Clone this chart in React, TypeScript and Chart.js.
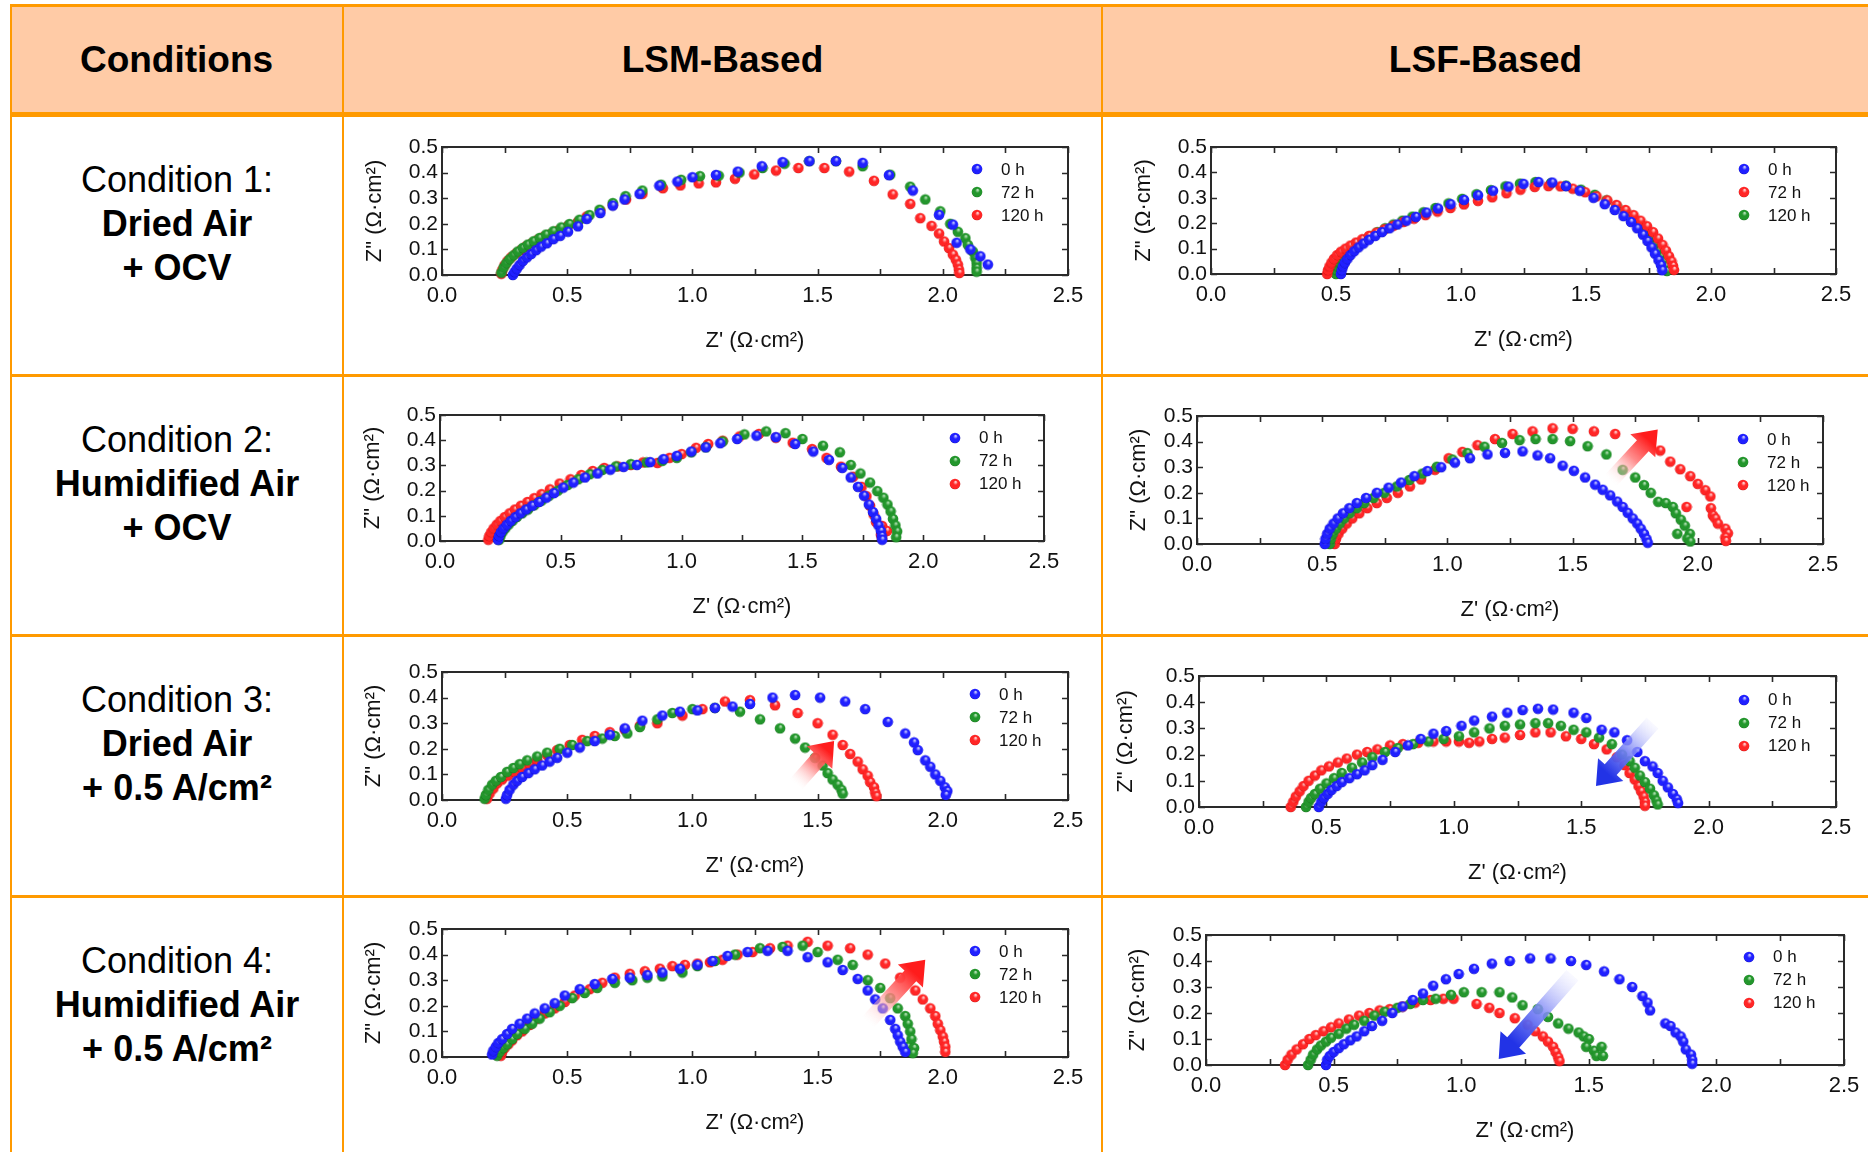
import React, { useEffect, useRef } from "react";
import { Chart, registerables } from "chart.js";

Chart.register(...registerables);

const FONT = '"Liberation Sans", Arial, Helvetica, sans-serif';

// ---------------- table text ----------------
const columnHeaders = ["Conditions", "LSM-Based", "LSF-Based"];
const conditionNames = ["Condition 1:", "Condition 2:", "Condition 3:", "Condition 4:"];
const conditionLines = [
  ["Dried Air", "+ OCV"],
  ["Humidified Air", "+ OCV"],
  ["Dried Air", "+ 0.5 A/cm²"],
  ["Humidified Air", "+ 0.5 A/cm²"],
];

// ---------------- axes ----------------
const xAxisTitle = "Z' (Ω·cm²)";
const yAxisTitle = 'Z" (Ω·cm²)';
const xRange = [0, 2.5];
const yRange = [0, 0.5];
const xLabelStep = 0.5;
const xTickStep = 0.25;
const yTickStep = 0.1;
const timeLabels = ["0 h", "72 h", "120 h"];

// ---------------- data: [Z', Z''] ----------------
// Condition 1, LSM
const lsmC1_0h = [[0.283,0.0],[0.29,0.012],[0.299,0.025],[0.31,0.039],[0.323,0.055],[0.339,0.069],[0.356,0.082],[0.376,0.097],[0.396,0.111],[0.419,0.124],[0.445,0.14],[0.472,0.153],[0.503,0.169],[0.543,0.19],[0.578,0.219],[0.632,0.242],[0.682,0.271],[0.729,0.295],[0.789,0.317],[0.868,0.349],[0.94,0.365],[1.0,0.382],[1.094,0.391],[1.181,0.404],[1.277,0.425],[1.36,0.441],[1.467,0.445],[1.573,0.445],[1.68,0.438],[1.785,0.39],[1.88,0.33],[1.985,0.235],[2.04,0.197],[2.055,0.126],[2.11,0.1],[2.15,0.073],[2.18,0.041]];
const lsmC1_72h = [[0.237,0.009],[0.246,0.029],[0.257,0.046],[0.27,0.062],[0.286,0.077],[0.303,0.092],[0.323,0.106],[0.343,0.119],[0.366,0.132],[0.39,0.145],[0.416,0.158],[0.445,0.171],[0.476,0.186],[0.509,0.199],[0.549,0.216],[0.589,0.234],[0.629,0.255],[0.682,0.281],[0.733,0.308],[0.8,0.33],[0.875,0.353],[0.955,0.372],[1.03,0.386],[1.105,0.388],[1.188,0.4],[1.28,0.418],[1.368,0.435],[1.467,0.445],[1.573,0.445],[1.68,0.425],[1.79,0.392],[1.87,0.345],[1.93,0.295],[1.99,0.249],[2.03,0.2],[2.06,0.169],[2.09,0.144],[2.1,0.118],[2.12,0.092],[2.13,0.067],[2.135,0.047],[2.135,0.028],[2.135,0.013]];
const lsmC1_120h = [[0.237,0.005],[0.241,0.02],[0.25,0.038],[0.262,0.055],[0.277,0.07],[0.297,0.085],[0.316,0.098],[0.336,0.112],[0.36,0.125],[0.383,0.138],[0.406,0.149],[0.434,0.16],[0.463,0.173],[0.503,0.192],[0.543,0.208],[0.578,0.229],[0.632,0.251],[0.682,0.274],[0.735,0.295],[0.8,0.317],[0.882,0.339],[0.952,0.35],[1.025,0.358],[1.094,0.362],[1.17,0.376],[1.247,0.393],[1.334,0.408],[1.423,0.418],[1.527,0.418],[1.626,0.404],[1.725,0.368],[1.8,0.315],[1.87,0.278],[1.91,0.222],[1.955,0.192],[1.985,0.162],[2.005,0.131],[2.025,0.105],[2.04,0.08],[2.052,0.06],[2.06,0.041],[2.064,0.022],[2.066,0.008]];

// Condition 1, LSF
const lsfC1_0h = [[0.52,0.0],[0.523,0.015],[0.528,0.03],[0.536,0.045],[0.546,0.06],[0.558,0.075],[0.573,0.09],[0.59,0.105],[0.61,0.12],[0.632,0.135],[0.657,0.15],[0.684,0.165],[0.714,0.18],[0.746,0.195],[0.782,0.21],[0.82,0.225],[0.862,0.242],[0.908,0.258],[0.958,0.275],[1.012,0.292],[1.068,0.31],[1.128,0.328],[1.19,0.344],[1.25,0.355],[1.31,0.362],[1.365,0.36],[1.42,0.346],[1.475,0.328],[1.53,0.3],[1.575,0.275],[1.615,0.252],[1.65,0.228],[1.68,0.205],[1.705,0.18],[1.728,0.155],[1.746,0.13],[1.762,0.105],[1.776,0.08],[1.79,0.055],[1.8,0.035],[1.805,0.015]];
const lsfC1_72h = [[0.465,0.0],[0.468,0.015],[0.474,0.03],[0.482,0.045],[0.492,0.06],[0.505,0.075],[0.52,0.088],[0.538,0.1],[0.558,0.112],[0.58,0.124],[0.605,0.137],[0.632,0.15],[0.662,0.163],[0.694,0.176],[0.73,0.19],[0.77,0.205],[0.812,0.218],[0.858,0.232],[0.906,0.246],[0.958,0.26],[1.012,0.274],[1.068,0.288],[1.125,0.302],[1.182,0.318],[1.238,0.332],[1.295,0.343],[1.35,0.346],[1.398,0.345],[1.447,0.336],[1.497,0.322],[1.542,0.306],[1.585,0.29],[1.622,0.272],[1.658,0.252],[1.69,0.232],[1.718,0.21],[1.744,0.188],[1.768,0.165],[1.788,0.14],[1.806,0.115],[1.82,0.092],[1.832,0.07],[1.842,0.05],[1.848,0.032],[1.852,0.016]];
const lsfC1_120h = [[0.5,0.0],[0.503,0.015],[0.508,0.03],[0.516,0.045],[0.526,0.06],[0.538,0.075],[0.553,0.09],[0.57,0.105],[0.59,0.12],[0.613,0.135],[0.638,0.15],[0.666,0.165],[0.697,0.18],[0.73,0.195],[0.766,0.21],[0.806,0.226],[0.85,0.243],[0.898,0.26],[0.95,0.278],[1.005,0.296],[1.062,0.314],[1.12,0.33],[1.178,0.345],[1.236,0.356],[1.298,0.362],[1.36,0.358],[1.42,0.348],[1.48,0.332],[1.535,0.312],[1.582,0.29],[1.622,0.268],[1.658,0.245],[1.69,0.22],[1.718,0.195],[1.742,0.17],[1.762,0.145],[1.778,0.12],[1.792,0.095],[1.804,0.072],[1.814,0.05],[1.82,0.03],[1.824,0.012]];

// Condition 2, LSM
const lsmC2_0h = [[0.24,0.005],[0.244,0.02],[0.252,0.035],[0.263,0.05],[0.277,0.065],[0.293,0.08],[0.312,0.095],[0.333,0.11],[0.356,0.125],[0.382,0.14],[0.41,0.155],[0.44,0.172],[0.472,0.19],[0.51,0.212],[0.552,0.232],[0.6,0.252],[0.652,0.268],[0.705,0.283],[0.76,0.294],[0.815,0.302],[0.87,0.313],[0.925,0.325],[0.98,0.338],[1.04,0.355],[1.1,0.372],[1.16,0.388],[1.23,0.405],[1.31,0.418],[1.39,0.412],[1.47,0.385],[1.545,0.355],[1.61,0.322],[1.665,0.29],[1.7,0.252],[1.73,0.215],[1.755,0.18],[1.775,0.145],[1.792,0.115],[1.805,0.088],[1.815,0.062],[1.825,0.04],[1.828,0.02],[1.83,0.005]];
const lsmC2_72h = [[0.245,0.005],[0.25,0.02],[0.258,0.035],[0.27,0.05],[0.284,0.065],[0.3,0.08],[0.318,0.095],[0.34,0.11],[0.364,0.125],[0.39,0.142],[0.42,0.16],[0.452,0.18],[0.488,0.2],[0.528,0.222],[0.572,0.245],[0.62,0.265],[0.672,0.282],[0.728,0.296],[0.79,0.305],[0.855,0.312],[0.92,0.318],[0.98,0.33],[1.04,0.352],[1.1,0.372],[1.17,0.395],[1.26,0.423],[1.35,0.435],[1.43,0.428],[1.5,0.405],[1.585,0.378],[1.655,0.352],[1.7,0.302],[1.74,0.268],[1.78,0.232],[1.81,0.198],[1.835,0.172],[1.852,0.145],[1.865,0.118],[1.875,0.088],[1.885,0.062],[1.892,0.038],[1.888,0.015]];
const lsmC2_120h = [[0.2,0.005],[0.204,0.02],[0.212,0.035],[0.222,0.05],[0.235,0.065],[0.25,0.08],[0.268,0.095],[0.288,0.11],[0.31,0.125],[0.335,0.14],[0.362,0.155],[0.39,0.17],[0.42,0.186],[0.455,0.205],[0.495,0.228],[0.54,0.245],[0.585,0.262],[0.632,0.278],[0.68,0.29],[0.735,0.296],[0.79,0.302],[0.84,0.312],[0.9,0.31],[0.95,0.33],[1.0,0.345],[1.06,0.37],[1.11,0.385],[1.17,0.398],[1.24,0.415],[1.32,0.425],[1.39,0.41],[1.46,0.39],[1.54,0.365],[1.6,0.33],[1.66,0.295],[1.71,0.255],[1.745,0.215],[1.765,0.178],[1.78,0.14],[1.795,0.105],[1.805,0.075],[1.83,0.06],[1.85,0.04],[1.825,0.025],[1.83,0.01]];

// Condition 2, LSF
const lsfC2_0h = [[0.51,0.0],[0.513,0.02],[0.52,0.04],[0.53,0.06],[0.545,0.08],[0.562,0.1],[0.583,0.12],[0.608,0.14],[0.638,0.16],[0.675,0.18],[0.718,0.2],[0.765,0.22],[0.815,0.24],[0.868,0.265],[0.92,0.285],[0.975,0.3],[1.03,0.318],[1.09,0.335],[1.16,0.35],[1.23,0.356],[1.3,0.362],[1.36,0.346],[1.41,0.335],[1.46,0.306],[1.505,0.286],[1.55,0.26],[1.59,0.232],[1.62,0.212],[1.65,0.19],[1.678,0.166],[1.7,0.145],[1.72,0.122],[1.74,0.1],[1.758,0.08],[1.772,0.06],[1.785,0.04],[1.795,0.02],[1.8,0.005]];
const lsfC2_72h = [[0.53,0.0],[0.534,0.02],[0.542,0.04],[0.555,0.06],[0.57,0.08],[0.588,0.1],[0.61,0.12],[0.638,0.14],[0.668,0.16],[0.705,0.18],[0.748,0.2],[0.798,0.225],[0.848,0.25],[0.9,0.275],[0.958,0.302],[1.02,0.33],[1.08,0.355],[1.148,0.38],[1.218,0.395],[1.288,0.406],[1.352,0.41],[1.42,0.41],[1.49,0.402],[1.56,0.382],[1.635,0.35],[1.7,0.29],[1.75,0.26],[1.785,0.23],[1.812,0.2],[1.842,0.165],[1.872,0.16],[1.9,0.145],[1.912,0.12],[1.932,0.095],[1.948,0.072],[1.918,0.04],[1.968,0.04],[1.958,0.022],[1.97,0.01]];
const lsfC2_120h = [[0.55,0.0],[0.555,0.02],[0.565,0.04],[0.58,0.06],[0.598,0.08],[0.62,0.1],[0.648,0.12],[0.68,0.14],[0.718,0.16],[0.758,0.18],[0.802,0.2],[0.85,0.225],[0.895,0.252],[0.95,0.29],[1.005,0.335],[1.06,0.36],[1.12,0.386],[1.19,0.41],[1.26,0.43],[1.34,0.44],[1.42,0.452],[1.5,0.45],[1.585,0.44],[1.67,0.43],[1.85,0.365],[1.89,0.322],[1.93,0.292],[1.97,0.265],[2.0,0.235],[2.03,0.21],[2.05,0.186],[1.955,0.145],[2.052,0.14],[2.06,0.112],[2.07,0.1],[2.08,0.08],[2.11,0.06],[2.12,0.042],[2.11,0.026],[2.112,0.012]];

// Condition 3, LSM
const lsmC3_0h = [[0.255,0.005],[0.26,0.02],[0.27,0.04],[0.285,0.06],[0.3,0.075],[0.32,0.09],[0.345,0.105],[0.37,0.12],[0.4,0.135],[0.43,0.15],[0.46,0.165],[0.5,0.185],[0.55,0.205],[0.61,0.23],[0.67,0.255],[0.73,0.28],[0.8,0.31],[0.88,0.33],[0.95,0.345],[1.02,0.35],[1.09,0.36],[1.16,0.365],[1.23,0.375],[1.32,0.4],[1.41,0.41],[1.51,0.4],[1.61,0.385],[1.69,0.355],[1.78,0.305],[1.85,0.26],[1.885,0.225],[1.9,0.195],[1.93,0.155],[1.95,0.13],[1.97,0.1],[1.99,0.075],[2.008,0.05],[2.018,0.035],[2.012,0.02]];
const lsmC3_72h = [[0.17,0.005],[0.175,0.02],[0.185,0.04],[0.2,0.06],[0.215,0.075],[0.235,0.09],[0.26,0.11],[0.285,0.125],[0.31,0.14],[0.34,0.155],[0.38,0.17],[0.42,0.185],[0.47,0.2],[0.52,0.215],[0.58,0.23],[0.64,0.24],[0.69,0.25],[0.74,0.26],[0.79,0.285],[0.86,0.315],[0.92,0.34],[1.0,0.355],[1.09,0.36],[1.19,0.345],[1.27,0.315],[1.35,0.28],[1.41,0.24],[1.45,0.205],[1.49,0.165],[1.52,0.135],[1.54,0.105],[1.56,0.08],[1.58,0.06],[1.595,0.04],[1.6,0.025]];
const lsmC3_120h = [[0.18,0.005],[0.19,0.025],[0.205,0.045],[0.22,0.065],[0.24,0.08],[0.265,0.095],[0.29,0.11],[0.32,0.125],[0.35,0.14],[0.38,0.155],[0.42,0.175],[0.46,0.195],[0.51,0.215],[0.56,0.235],[0.61,0.25],[0.67,0.265],[0.73,0.275],[0.79,0.29],[0.86,0.3],[0.96,0.33],[1.04,0.355],[1.13,0.385],[1.23,0.39],[1.33,0.37],[1.42,0.34],[1.5,0.3],[1.56,0.255],[1.6,0.215],[1.63,0.18],[1.66,0.15],[1.68,0.12],[1.7,0.095],[1.71,0.07],[1.725,0.05],[1.73,0.03],[1.735,0.015]];

// Condition 3, LSF
const lsfC3_0h = [[0.47,0.0],[0.48,0.02],[0.49,0.035],[0.505,0.05],[0.52,0.065],[0.54,0.08],[0.56,0.095],[0.59,0.11],[0.62,0.125],[0.65,0.14],[0.68,0.16],[0.72,0.18],[0.77,0.21],[0.82,0.235],[0.87,0.26],[0.92,0.28],[0.97,0.29],[1.03,0.31],[1.08,0.33],[1.15,0.345],[1.21,0.36],[1.27,0.37],[1.33,0.375],[1.39,0.372],[1.47,0.36],[1.52,0.34],[1.58,0.295],[1.63,0.285],[1.68,0.255],[1.72,0.21],[1.75,0.175],[1.78,0.155],[1.8,0.13],[1.82,0.1],[1.84,0.075],[1.86,0.05],[1.875,0.03],[1.88,0.015]];
const lsfC3_72h = [[0.42,0.0],[0.43,0.02],[0.44,0.035],[0.455,0.05],[0.475,0.07],[0.5,0.09],[0.53,0.11],[0.56,0.13],[0.6,0.15],[0.64,0.17],[0.68,0.19],[0.73,0.21],[0.78,0.225],[0.84,0.24],[0.9,0.25],[0.96,0.26],[1.02,0.27],[1.08,0.285],[1.14,0.3],[1.2,0.31],[1.26,0.315],[1.32,0.32],[1.37,0.32],[1.42,0.31],[1.47,0.295],[1.52,0.285],[1.57,0.265],[1.62,0.24],[1.66,0.2],[1.69,0.175],[1.71,0.15],[1.73,0.12],[1.75,0.095],[1.77,0.07],[1.785,0.045],[1.795,0.025],[1.8,0.01]];
const lsfC3_120h = [[0.36,0.0],[0.37,0.02],[0.38,0.04],[0.395,0.06],[0.41,0.08],[0.43,0.1],[0.455,0.12],[0.48,0.14],[0.51,0.155],[0.545,0.17],[0.58,0.185],[0.62,0.2],[0.66,0.21],[0.7,0.22],[0.75,0.235],[0.8,0.24],[0.86,0.245],[0.92,0.25],[0.97,0.25],[1.02,0.25],[1.06,0.245],[1.1,0.25],[1.15,0.26],[1.2,0.265],[1.26,0.275],[1.32,0.285],[1.38,0.285],[1.44,0.27],[1.5,0.26],[1.55,0.24],[1.6,0.22],[1.64,0.19],[1.67,0.16],[1.69,0.13],[1.71,0.105],[1.725,0.08],[1.735,0.06],[1.745,0.04],[1.75,0.02],[1.75,0.005]];

// Condition 4, LSM
const lsmC4_0h = [[0.2,0.01],[0.205,0.025],[0.215,0.04],[0.225,0.055],[0.24,0.07],[0.26,0.09],[0.28,0.11],[0.31,0.13],[0.34,0.15],[0.37,0.17],[0.41,0.19],[0.45,0.21],[0.49,0.24],[0.55,0.265],[0.61,0.285],[0.68,0.305],[0.75,0.31],[0.82,0.32],[0.88,0.33],[0.95,0.345],[1.02,0.36],[1.08,0.375],[1.14,0.395],[1.22,0.41],[1.3,0.415],[1.38,0.415],[1.46,0.39],[1.54,0.37],[1.6,0.34],[1.66,0.305],[1.7,0.26],[1.73,0.225],[1.76,0.19],[1.79,0.145],[1.81,0.11],[1.82,0.085],[1.83,0.06],[1.84,0.04],[1.85,0.02]];
const lsmC4_72h = [[0.22,0.005],[0.23,0.02],[0.245,0.035],[0.26,0.05],[0.28,0.07],[0.3,0.09],[0.33,0.11],[0.36,0.13],[0.39,0.15],[0.43,0.175],[0.47,0.2],[0.52,0.23],[0.57,0.25],[0.62,0.27],[0.69,0.29],[0.76,0.3],[0.82,0.31],[0.88,0.315],[0.96,0.33],[1.02,0.355],[1.09,0.375],[1.17,0.4],[1.27,0.425],[1.36,0.43],[1.44,0.435],[1.5,0.41],[1.58,0.38],[1.64,0.36],[1.7,0.3],[1.75,0.27],[1.79,0.23],[1.82,0.19],[1.85,0.16],[1.86,0.13],[1.87,0.1],[1.875,0.07],[1.86,0.04],[1.885,0.035],[1.88,0.015]];
const lsmC4_120h = [[0.235,0.005],[0.24,0.02],[0.25,0.035],[0.265,0.05],[0.28,0.065],[0.3,0.085],[0.32,0.1],[0.35,0.125],[0.38,0.15],[0.41,0.17],[0.45,0.19],[0.49,0.215],[0.53,0.24],[0.59,0.265],[0.64,0.29],[0.69,0.31],[0.75,0.325],[0.81,0.335],[0.87,0.345],[0.92,0.355],[0.97,0.36],[1.02,0.365],[1.07,0.37],[1.12,0.38],[1.18,0.4],[1.24,0.41],[1.31,0.425],[1.38,0.435],[1.46,0.45],[1.54,0.435],[1.63,0.425],[1.7,0.4],[1.77,0.365],[1.83,0.31],[1.89,0.26],[1.92,0.225],[1.95,0.19],[1.97,0.16],[1.98,0.13],[1.99,0.105],[2.0,0.08],[2.005,0.06],[2.01,0.04],[2.01,0.02]];

// Condition 4, LSF
const lsfC4_0h = [[0.47,0.0],[0.475,0.02],[0.485,0.035],[0.5,0.05],[0.52,0.065],[0.54,0.08],[0.565,0.095],[0.59,0.11],[0.62,0.13],[0.65,0.15],[0.69,0.17],[0.73,0.2],[0.77,0.225],[0.81,0.25],[0.85,0.275],[0.89,0.305],[0.94,0.33],[0.99,0.35],[1.05,0.37],[1.12,0.39],[1.19,0.4],[1.27,0.41],[1.35,0.41],[1.43,0.4],[1.49,0.385],[1.56,0.36],[1.62,0.33],[1.67,0.3],[1.71,0.265],[1.73,0.24],[1.74,0.21],[1.8,0.16],[1.82,0.15],[1.84,0.125],[1.86,0.11],[1.87,0.09],[1.88,0.06],[1.9,0.04],[1.905,0.02],[1.905,0.005]];
const lsfC4_72h = [[0.4,0.0],[0.41,0.02],[0.42,0.04],[0.435,0.06],[0.45,0.075],[0.47,0.09],[0.49,0.105],[0.52,0.12],[0.55,0.14],[0.58,0.155],[0.62,0.17],[0.66,0.19],[0.7,0.205],[0.75,0.22],[0.8,0.235],[0.85,0.25],[0.9,0.255],[0.96,0.27],[1.01,0.28],[1.08,0.28],[1.15,0.28],[1.2,0.26],[1.24,0.23],[1.3,0.215],[1.34,0.185],[1.38,0.16],[1.42,0.14],[1.46,0.125],[1.48,0.11],[1.5,0.1],[1.49,0.07],[1.52,0.055],[1.55,0.07],[1.53,0.035],[1.555,0.035]];
const lsfC4_120h = [[0.31,0.0],[0.32,0.02],[0.335,0.04],[0.355,0.06],[0.38,0.08],[0.405,0.1],[0.43,0.115],[0.46,0.13],[0.49,0.145],[0.52,0.16],[0.56,0.175],[0.6,0.19],[0.64,0.2],[0.68,0.21],[0.72,0.215],[0.77,0.225],[0.82,0.24],[0.88,0.25],[0.93,0.255],[0.97,0.255],[1.06,0.235],[1.11,0.22],[1.15,0.2],[1.21,0.18],[1.26,0.155],[1.29,0.13],[1.32,0.11],[1.34,0.09],[1.36,0.07],[1.37,0.05],[1.38,0.03],[1.385,0.015]];

// trend arrows: [tail, head] in data coordinates
const arrowLsfC2 = [[1.652, 0.248], [1.84, 0.447]];
const arrowLsmC3 = [[1.414, 0.062], [1.566, 0.23]];
const arrowLsfC3 = [[1.78, 0.32], [1.558, 0.08]];
const arrowLsmC4 = [[1.7, 0.135], [1.93, 0.38]];
const arrowLsfC4 = [[1.436, 0.345], [1.147, 0.023]];

// ---------------- layout (page pixels) ----------------
const YW = 100; // width reserved for y scale
const PT = 18; // padding above plot
const PR = 26; // padding right of plot
const XH = 90; // height reserved for x scale

const panels = [
  { box: [442, 146.5, 1068, 274], legendAt: [977, 168.5], yTitleOff: -67,
    series: [[timeLabels[0], "blue", lsmC1_0h], [timeLabels[1], "green", lsmC1_72h], [timeLabels[2], "red", lsmC1_120h]], arrow: null, arrowColor: "" },
  { box: [1211, 146.5, 1836, 273.5], legendAt: [1744, 168.5], yTitleOff: -67,
    series: [[timeLabels[0], "blue", lsfC1_0h], [timeLabels[1], "red", lsfC1_72h], [timeLabels[2], "green", lsfC1_120h]], arrow: null, arrowColor: "" },
  { box: [440, 414.5, 1044, 540.5], legendAt: [955, 437], yTitleOff: -67,
    series: [[timeLabels[0], "blue", lsmC2_0h], [timeLabels[1], "green", lsmC2_72h], [timeLabels[2], "red", lsmC2_120h]], arrow: null, arrowColor: "" },
  { box: [1197, 415.5, 1823, 543.5], legendAt: [1743, 438.5], yTitleOff: -58,
    series: [[timeLabels[0], "blue", lsfC2_0h], [timeLabels[1], "green", lsfC2_72h], [timeLabels[2], "red", lsfC2_120h]], arrow: arrowLsfC2, arrowColor: "red" },
  { box: [442, 672, 1068, 800], legendAt: [975, 694], yTitleOff: -68,
    series: [[timeLabels[0], "blue", lsmC3_0h], [timeLabels[1], "green", lsmC3_72h], [timeLabels[2], "red", lsmC3_120h]], arrow: arrowLsmC3, arrowColor: "red" },
  { box: [1199, 676, 1836, 807], legendAt: [1744, 699.5], yTitleOff: -73,
    series: [[timeLabels[0], "blue", lsfC3_0h], [timeLabels[1], "green", lsfC3_72h], [timeLabels[2], "red", lsfC3_120h]], arrow: arrowLsfC3, arrowColor: "blue" },
  { box: [442, 929, 1068, 1056.5], legendAt: [975, 951], yTitleOff: -68,
    series: [[timeLabels[0], "blue", lsmC4_0h], [timeLabels[1], "green", lsmC4_72h], [timeLabels[2], "red", lsmC4_120h]], arrow: arrowLsmC4, arrowColor: "red" },
  { box: [1206, 934.5, 1844, 1064], legendAt: [1749, 956], yTitleOff: -68,
    series: [[timeLabels[0], "blue", lsfC4_0h], [timeLabels[1], "green", lsfC4_72h], [timeLabels[2], "red", lsfC4_120h]], arrow: arrowLsfC4, arrowColor: "blue" },
];

const SPHERE_COLORS: Record<string, string[]> = {
  blue: ["#d6d8ff", "#2020ff", "#0000a0"],
  green: ["#c4eac4", "#23962c", "#0b5a10"],
  red: ["#ffe0e0", "#ff2626", "#b00000"],
};
const ARROW_COLORS: Record<string, string[]> = {
  red: ["rgba(255,255,255,0.15)", "rgba(255,120,120,0.85)", "#ff1c1c"],
  blue: ["rgba(235,235,255,0.3)", "rgba(120,130,245,0.9)", "#2233e6"],
};

const sphereCache: Record<string, HTMLCanvasElement> = {};
function sphere(color: string): HTMLCanvasElement {
  if (sphereCache[color]) return sphereCache[color];
  const [light, base, dark] = SPHERE_COLORS[color];
  const c = document.createElement("canvas");
  c.width = 12;
  c.height = 12;
  const g = c.getContext("2d")!;
  const grad = g.createRadialGradient(6.8, 3.8, 0.2, 6, 6, 5.6);
  grad.addColorStop(0, light);
  grad.addColorStop(0.4, base);
  grad.addColorStop(0.85, base);
  grad.addColorStop(1, dark);
  g.fillStyle = grad;
  g.beginPath();
  g.arc(6, 6, 5.3, 0, Math.PI * 2);
  g.fill();
  sphereCache[color] = c;
  return c;
}

function makeDecor(cfg: any) {
  const [l, t] = cfg.box;
  return {
    id: "decor",
    beforeDatasetsDraw(chart: any) {
      const { ctx, chartArea } = chart;
      const { left, right, top, bottom } = chartArea;
      const xs = chart.scales.x;
      const ys = chart.scales.y;
      ctx.save();
      ctx.strokeStyle = "#2a2a2a";
      ctx.lineWidth = 1.6;
      ctx.beginPath();
      for (let v = xRange[0]; v <= xRange[1] + 1e-9; v += xTickStep) {
        const px = Math.round(xs.getPixelForValue(v)) + 0.5;
        ctx.moveTo(px, bottom);
        ctx.lineTo(px, bottom - 6);
        ctx.moveTo(px, top);
        ctx.lineTo(px, top + 6);
      }
      for (let v = yRange[0]; v <= yRange[1] + 1e-9; v += yTickStep) {
        const py = Math.round(ys.getPixelForValue(v)) + 0.5;
        ctx.moveTo(left, py);
        ctx.lineTo(left + 6, py);
        ctx.moveTo(right, py);
        ctx.lineTo(right - 6, py);
      }
      ctx.stroke();
      ctx.lineWidth = 2;
      ctx.strokeRect(left, top, right - left, bottom - top);
      ctx.restore();
    },
    afterDatasetsDraw(chart: any) {
      if (!cfg.arrow) return;
      const { ctx } = chart;
      const xs = chart.scales.x;
      const ys = chart.scales.y;
      const [[ax0, ay0], [ax1, ay1]] = cfg.arrow;
      const x0 = xs.getPixelForValue(ax0), y0 = ys.getPixelForValue(ay0);
      const x1 = xs.getPixelForValue(ax1), y1 = ys.getPixelForValue(ay1);
      const len = Math.hypot(x1 - x0, y1 - y0);
      const ang = Math.atan2(y1 - y0, x1 - x0);
      const shaft = 8, head = 17, headLen = 22;
      const [c0, c1, c2] = ARROW_COLORS[cfg.arrowColor];
      ctx.save();
      ctx.translate(x0, y0);
      ctx.rotate(ang);
      const grad = ctx.createLinearGradient(0, 0, len, 0);
      grad.addColorStop(0, c0);
      grad.addColorStop(0.45, c1);
      grad.addColorStop(0.8, c2);
      grad.addColorStop(1, c2);
      ctx.fillStyle = grad;
      ctx.beginPath();
      ctx.moveTo(0, -shaft);
      ctx.lineTo(len - headLen, -shaft);
      ctx.lineTo(len - headLen, -head);
      ctx.lineTo(len, 0);
      ctx.lineTo(len - headLen, head);
      ctx.lineTo(len - headLen, shaft);
      ctx.lineTo(0, shaft);
      ctx.closePath();
      ctx.fill();
      ctx.restore();
    },
    afterDraw(chart: any) {
      const { ctx } = chart;
      const ox = l - YW;
      const oy = t - PT;
      const [lx, ly] = cfg.legendAt;
      ctx.save();
      ctx.font = `17px ${FONT}`;
      ctx.textBaseline = "middle";
      ctx.textAlign = "left";
      ctx.fillStyle = "#111";
      chart.data.datasets.forEach((ds: any, i: number) => {
        const cx = lx - ox;
        const cy = ly - oy + i * 23;
        const img = sphere(ds.sphere);
        ctx.drawImage(img, Math.round(cx - img.width / 2), Math.round(cy - img.height / 2));
        ctx.fillText(ds.label, cx + 24, cy + 1);
      });
      ctx.restore();
    },
  };
}

function Panel({ cfg }: { cfg: any }) {
  const ref = useRef<HTMLCanvasElement>(null);
  const [l, t, r, b] = cfg.box;
  const W = Math.round(r - l + YW + PR);
  const H = Math.round(b - t + PT + XH);
  useEffect(() => {
    const yTitlePad = YW - 13.2 + cfg.yTitleOff;
    const chart = new Chart(ref.current!, {
      type: "scatter",
      data: {
        datasets: cfg.series.map(([label, color, pts]: any) => ({
          label,
          sphere: color,
          data: pts.map(([x, y]: number[]) => ({ x, y })),
          pointStyle: sphere(color),
          pointRadius: 6,
          showLine: false,
          clip: false,
        })),
      },
      options: {
        animation: false,
        responsive: false,
        maintainAspectRatio: false,
        devicePixelRatio: 1,
        events: [],
        layout: { padding: { top: PT, right: PR, left: 0, bottom: 0 } },
        plugins: { legend: { display: false }, tooltip: { enabled: false } },
        scales: {
          x: {
            type: "linear",
            min: xRange[0],
            max: xRange[1],
            afterFit: (s: any) => { s.height = XH; },
            grid: { display: false, drawTicks: false },
            border: { display: false },
            ticks: {
              stepSize: xLabelStep,
              autoSkip: false,
              maxRotation: 0,
              minRotation: 0,
              padding: 8,
              color: "#111",
              font: { family: FONT, size: 22 },
              callback: (v: any) => Number(v).toFixed(1),
            },
            title: {
              display: true,
              text: xAxisTitle,
              color: "#111",
              font: { family: FONT, size: 22 },
              padding: { top: 0, bottom: 11 },
            },
          },
          y: {
            type: "linear",
            min: yRange[0],
            max: yRange[1],
            afterFit: (s: any) => { s.width = YW; },
            grid: { display: false, drawTicks: false },
            border: { display: false },
            ticks: {
              stepSize: yTickStep,
              autoSkip: false,
              padding: 4,
              color: "#111",
              font: { family: FONT, size: 21 },
              callback: (v: any) => Number(v).toFixed(1),
            },
            title: {
              display: true,
              text: yAxisTitle,
              color: "#111",
              font: { family: FONT, size: 22 },
              padding: { top: yTitlePad, bottom: 0 },
            },
          },
        },
      } as any,
      plugins: [makeDecor(cfg)],
    } as any);
    return () => chart.destroy();
  }, []);
  return (
    <canvas
      ref={ref}
      width={W}
      height={H}
      style={{ position: "absolute", left: l - YW, top: t - PT, width: W, height: H }}
    />
  );
}

const ORANGE = "#FF9A00";
const PEACH = "#FFCBA6";

export default function App() {
  const labelTops = [117, 377, 637, 898];
  return (
    <div
      style={{
        position: "absolute",
        left: 0,
        top: 0,
        width: 1868,
        height: 1152,
        overflow: "hidden",
        background: "#fff",
        fontFamily: FONT,
        color: "#000",
      }}
    >
      {/* header background */}
      <div style={{ position: "absolute", left: 10, top: 5, width: 1858, height: 108, background: PEACH }} />
      {/* horizontal lines */}
      <div style={{ position: "absolute", left: 10, top: 4, width: 1858, height: 3, background: ORANGE }} />
      <div style={{ position: "absolute", left: 10, top: 112, width: 1858, height: 5, background: ORANGE }} />
      <div style={{ position: "absolute", left: 10, top: 374, width: 1858, height: 3, background: ORANGE }} />
      <div style={{ position: "absolute", left: 10, top: 634, width: 1858, height: 3, background: ORANGE }} />
      <div style={{ position: "absolute", left: 10, top: 895, width: 1858, height: 3, background: ORANGE }} />
      {/* vertical lines */}
      <div style={{ position: "absolute", left: 10, top: 4, width: 2, height: 1148, background: ORANGE }} />
      <div style={{ position: "absolute", left: 342, top: 4, width: 2, height: 1148, background: ORANGE }} />
      <div style={{ position: "absolute", left: 1101, top: 4, width: 2, height: 1148, background: ORANGE }} />

      {/* header text */}
      {[
        [10, 333],
        [344, 757],
        [1103, 765],
      ].map(([x, w], i) => (
        <div
          key={i}
          style={{
            position: "absolute",
            left: x,
            top: 7,
            width: w,
            height: 105,
            display: "flex",
            alignItems: "center",
            justifyContent: "center",
            fontSize: 37,
            fontWeight: "bold",
          }}
        >
          {columnHeaders[i]}
        </div>
      ))}

      {/* row labels */}
      {conditionNames.map((name, i) => (
        <div
          key={name}
          style={{
            position: "absolute",
            left: 12,
            top: labelTops[i] + 41,
            width: 330,
            textAlign: "center",
            fontSize: 36,
            lineHeight: "44px",
          }}
        >
          <div>{name}</div>
          <div style={{ fontWeight: "bold" }}>{conditionLines[i][0]}</div>
          <div style={{ fontWeight: "bold" }}>{conditionLines[i][1]}</div>
        </div>
      ))}

      {panels.map((p, i) => (
        <Panel key={i} cfg={p} />
      ))}
    </div>
  );
}
